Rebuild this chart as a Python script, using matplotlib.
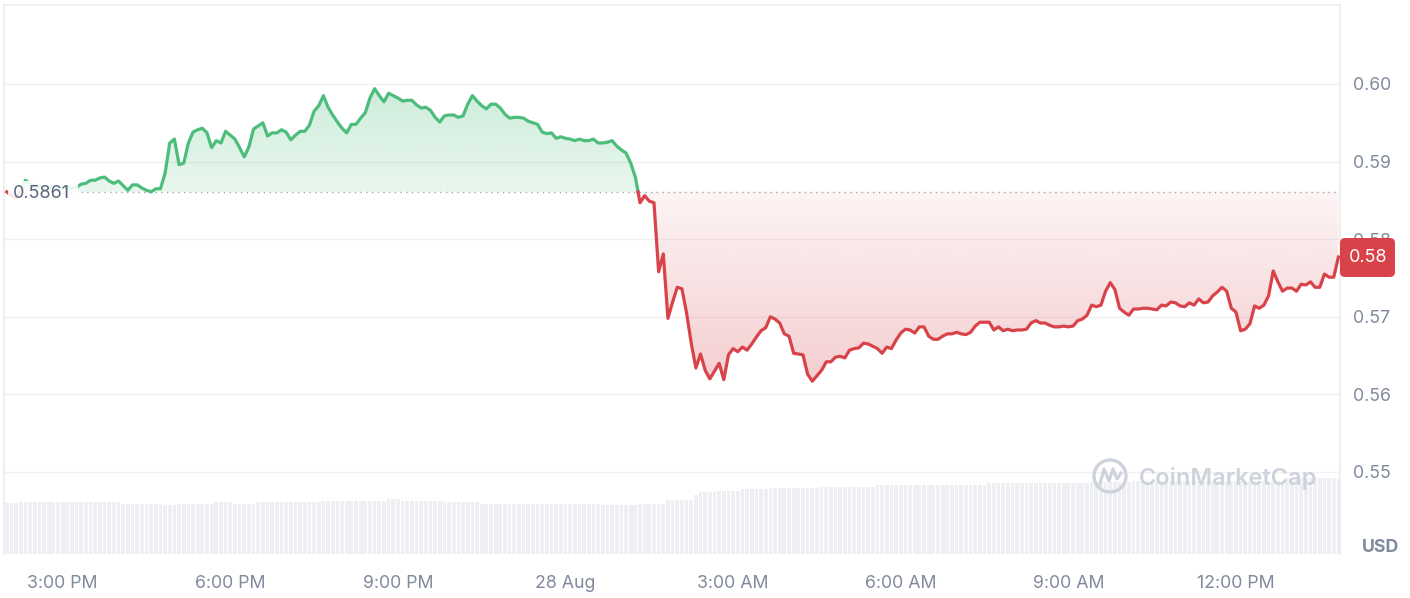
import numpy as np
import matplotlib
matplotlib.use("Agg")
import matplotlib.pyplot as plt
from matplotlib.path import Path
from matplotlib.patches import FancyBboxPatch, Circle, Rectangle
from matplotlib.lines import Line2D
from matplotlib.colors import to_rgb

plt.rcParams['font.family'] = ['Inter', 'DejaVu Sans']

# ---------------- data ----------------
start_hour = -10.0          # 27 Aug 2:00 PM, hours relative to 28 Aug 00:00
step_hours = 5 / 60         # 5-minute samples
baseline = 0.5861
prices = [
    0.5861, 0.5856, 0.5853, 0.5863, 0.5876, 0.5871, 0.5866, 0.5869, 0.5863, 0.5866,
    0.5869, 0.5863, 0.5866, 0.5867, 0.5866, 0.5867, 0.5871, 0.5872, 0.5876, 0.5876,
    0.5879, 0.5880, 0.5875, 0.5872, 0.5875, 0.5869, 0.5863, 0.5870, 0.5870, 0.5866,
    0.5863, 0.5861, 0.5865, 0.5865, 0.5885, 0.5924, 0.5929, 0.5896, 0.5898, 0.5924,
    0.5938, 0.5941, 0.5943, 0.5937, 0.5918, 0.5927, 0.5924, 0.5939, 0.5934, 0.5929,
    0.5918, 0.5906, 0.5919, 0.5942, 0.5946, 0.5950, 0.5933, 0.5937, 0.5937, 0.5941,
    0.5938, 0.5928, 0.5934, 0.5939, 0.5939, 0.5947, 0.5965, 0.5972, 0.5985, 0.5970,
    0.5960, 0.5951, 0.5943, 0.5937, 0.5948, 0.5948, 0.5956, 0.5963, 0.5982, 0.5994,
    0.5985, 0.5977, 0.5988, 0.5985, 0.5982, 0.5978, 0.5979, 0.5979, 0.5973, 0.5969,
    0.5970, 0.5966, 0.5957, 0.5951, 0.5959, 0.5960, 0.5960, 0.5957, 0.5959, 0.5974,
    0.5985, 0.5978, 0.5972, 0.5968, 0.5974, 0.5974, 0.5969, 0.5961, 0.5956, 0.5957,
    0.5957, 0.5956, 0.5952, 0.5950, 0.5948, 0.5938, 0.5936, 0.5937, 0.5930, 0.5932,
    0.5930, 0.5929, 0.5927, 0.5929, 0.5927, 0.5927, 0.5929, 0.5924, 0.5924, 0.5925,
    0.5927, 0.5920, 0.5915, 0.5911, 0.5898, 0.5880, 0.5847, 0.5856, 0.5849, 0.5847,
    0.5758, 0.5781, 0.5698, 0.5719, 0.5738, 0.5736, 0.5705, 0.5666, 0.5634, 0.5652,
    0.5631, 0.5620, 0.5630, 0.5640, 0.5619, 0.5651, 0.5659, 0.5655, 0.5661, 0.5657,
    0.5665, 0.5674, 0.5682, 0.5686, 0.5700, 0.5697, 0.5692, 0.5678, 0.5675, 0.5653,
    0.5652, 0.5651, 0.5626, 0.5617, 0.5624, 0.5631, 0.5642, 0.5642, 0.5648, 0.5649,
    0.5647, 0.5657, 0.5659, 0.5660, 0.5666, 0.5665, 0.5662, 0.5659, 0.5653, 0.5661,
    0.5659, 0.5670, 0.5679, 0.5684, 0.5683, 0.5679, 0.5687, 0.5687, 0.5675, 0.5671,
    0.5671, 0.5675, 0.5678, 0.5678, 0.5680, 0.5678, 0.5677, 0.5680, 0.5688, 0.5693,
    0.5693, 0.5693, 0.5683, 0.5687, 0.5682, 0.5684, 0.5682, 0.5683, 0.5683, 0.5684,
    0.5692, 0.5695, 0.5692, 0.5692, 0.5689, 0.5687, 0.5687, 0.5688, 0.5687, 0.5688,
    0.5695, 0.5697, 0.5702, 0.5715, 0.5713, 0.5715, 0.5733, 0.5744, 0.5735, 0.5711,
    0.5706, 0.5702, 0.5710, 0.5710, 0.5711, 0.5711, 0.5710, 0.5709, 0.5715, 0.5714,
    0.5719, 0.5718, 0.5714, 0.5713, 0.5718, 0.5715, 0.5723, 0.5718, 0.5719, 0.5727,
    0.5732, 0.5738, 0.5733, 0.5711, 0.5706, 0.5682, 0.5684, 0.5691, 0.5714, 0.5711,
    0.5715, 0.5727, 0.5759, 0.5745, 0.5733, 0.5737, 0.5737, 0.5733, 0.5742, 0.5741,
    0.5745, 0.5738, 0.5738, 0.5755, 0.5751, 0.5751, 0.5777,
]
# volume bars (relative units), read as runs of equal height
vol_levels = [51.3, 52.0, 50.3, 48.7, 50.3, 51.7, 50.3, 51.7, 53.3, 54.7, 53.3, 51.7, 50.3,
              48.7, 50.3, 54.0, 59.0, 62.0, 63.3, 64.7, 66.0, 67.3, 69.0, 70.7, 72.0, 73.3, 75.7]
vol_counts = [3, 22, 9, 3, 8, 4, 5, 14, 14, 3, 9, 8, 26, 8, 6, 6, 1, 4, 5, 6, 11, 12, 24, 22, 9, 33, 12]
xtick_hours = [-9, -6, -3, 0, 3, 6, 9, 12]
xtick_labels = ['3:00 PM', '6:00 PM', '9:00 PM', '28 Aug', '3:00 AM', '6:00 AM', '9:00 AM', '12:00 PM']
ytick_values = [0.55, 0.56, 0.57, 0.58, 0.59, 0.60]
last_label = '0.58'
baseline_label = '0.5861'

prices = np.array(prices)
hours = start_hour + step_hours * np.arange(len(prices))
volumes = np.repeat(vol_levels, vol_counts)

GREEN = '#4cbd7b'
RED = '#d8434a'
TXT = '#808a9d'

# ---------------- figure ----------------
W, H = 1410, 598
fig = plt.figure(figsize=(W / 100, H / 100), dpi=100)
pos = [4 / W, 44 / H, 1336 / W, 549 / H]
xlim = (-10.050, 13.862)

axv = fig.add_axes(pos, zorder=0)
axv.bar(hours, volumes, width=step_hours * 0.8, color='#edeff3', linewidth=0)
axv.set_xlim(*xlim)
axv.set_ylim(0, 549)
axv.axis('off')

ax = fig.add_axes(pos, zorder=1)
ax.patch.set_visible(False)

# split line at baseline crossings
xs, ys = [hours[0]], [prices[0]]
for i in range(1, len(prices)):
    a, b = prices[i - 1], prices[i]
    if (a - baseline) * (b - baseline) < 0:
        t = (baseline - a) / (b - a)
        xs.append(hours[i - 1] + t * step_hours)
        ys.append(baseline)
    xs.append(hours[i])
    ys.append(b)
xs, ys = np.array(xs), np.array(ys)


def gradient_fill(where, color, a_base, a_far, far):
    coll = ax.fill_between(xs, baseline, ys, where=where, interpolate=True,
                           facecolor='none', edgecolor='none')
    paths = [p for p in coll.get_paths() if len(p.vertices) > 2]
    compound = Path.make_compound_path(*paths)
    grad = np.zeros((256, 1, 4))
    grad[..., :3] = to_rgb(color)
    al = np.linspace(a_base, a_far, 256)
    if far > baseline:
        lo, hi = baseline, far
        grad[:, 0, 3] = al
    else:
        lo, hi = far, baseline
        grad[:, 0, 3] = al[::-1]
    im = ax.imshow(grad, aspect='auto', origin='lower', interpolation='bilinear',
                   extent=[xs.min(), xs.max(), lo, hi], zorder=1.5)
    im.set_clip_path(compound, transform=ax.transData)


gradient_fill(ys >= baseline, GREEN, 0.12, 0.28, prices.max())
gradient_fill(ys <= baseline, RED, 0.06, 0.26, prices.min())

up = np.where(ys >= baseline, ys, np.nan)
dn = np.where(ys <= baseline, ys, np.nan)
ax.plot(xs, up, color=GREEN, lw=2.3, zorder=3, solid_joinstyle='round')
ax.plot(xs, dn, color=RED, lw=2.3, zorder=3, solid_joinstyle='round')
ax.plot([hours[0], hours[-1]], [baseline, baseline], color='#9aa3b3',
        lw=1.0, linestyle=(0, (1, 3.1)), zorder=2.5)

ax.set_xlim(*xlim)
ax.set_ylim(0.53943, 0.61018)
ax.set_yticks(ytick_values)
ax.set_yticklabels([f'{v:.2f}' for v in ytick_values])
ax.yaxis.tick_right()
ax.set_xticks(xtick_hours)
ax.set_xticklabels(xtick_labels)
ax.tick_params(axis='y', length=0, pad=9, labelsize=12.8, labelcolor=TXT)
ax.tick_params(axis='x', length=0, pad=15, labelsize=12.8, labelcolor=TXT)
ax.grid(axis='y', color='#f0f1f3', lw=1)
ax.set_axisbelow(True)
for s in ['top', 'left', 'right']:
    ax.spines[s].set_color('#ececec')
    ax.spines[s].set_linewidth(1.2)
ax.spines['bottom'].set_visible(False)

# baseline label box
fig.patches.append(Rectangle((8 / 100, (H - 206) / 100), 70 / 100, 25 / 100,
                             transform=fig.dpi_scale_trans, facecolor='white',
                             edgecolor='none', alpha=0.88, zorder=2))
fig.text(13 / W, 1 - 194 / H, baseline_label, ha='left', va='center',
         fontsize=13, color='#58667e', zorder=3)

# last price tag
fig.patches.append(FancyBboxPatch((1340 / 100, (H - 277) / 100), 55 / 100, 39 / 100,
                                  boxstyle='round,pad=0,rounding_size=0.05',
                                  transform=fig.dpi_scale_trans, facecolor=RED,
                                  edgecolor='none', zorder=2))
fig.text(1368 / W, 1 - 258 / H, last_label, ha='center', va='center',
         fontsize=13, color='white', zorder=3)

# currency label
fig.text(1381 / W, 1 - 548 / H, 'USD', ha='center', va='center',
         fontsize=12.8, fontweight='bold', color=TXT)

# watermark
wm = '#cdd2dc'
fig.patches.append(Circle((1110 / 100, (H - 476) / 100), 16 / 100,
                          transform=fig.dpi_scale_trans, facecolor='none',
                          edgecolor=wm, lw=2.4, zorder=2))
fig.lines.append(Line2D(np.array([1100, 1104, 1109, 1113, 1117, 1121]) / 100,
                        (H - np.array([484, 469, 481, 469, 479, 473])) / 100,
                        transform=fig.dpi_scale_trans, color=wm, lw=2.2,
                        solid_joinstyle='round', zorder=2))
fig.text(1139 / W, 1 - 478 / H, 'CoinMarketCap', ha='left', va='center',
         fontsize=17, fontweight='semibold', color=wm, zorder=2)

fig.savefig('out.png', dpi=100, facecolor='white')
